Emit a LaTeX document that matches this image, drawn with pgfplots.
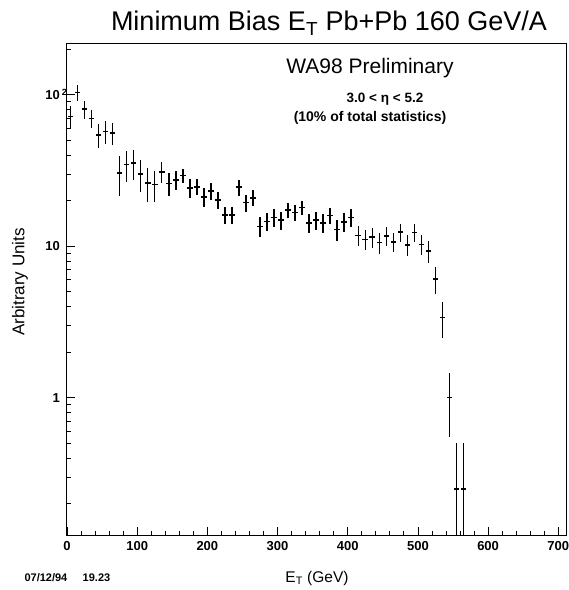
\documentclass[border=0pt]{standalone}
\usepackage{fontspec}
\setmainfont{Liberation Sans}
\usepackage{pgfplots}
\usepackage{pgfplotstable}
\pgfplotsset{compat=1.18}
\pgfplotstableread{
x y ep em
5 72 12 12
15 104 13 13
25 80.6 11 11
35 70 10 10
45 54.5 10 10
55 57.4 10 10
65 56 9 9
75 30.5 9 9
85 34.6 8 8
95 35.5 8 8
105 30 7 7
115 26.2 6.5 6.5
125 25.6 6 6
135 31 5 5
145 26 4.5 4.5
155 27.5 4 4
165 29.3 3 3
175 24.2 3.5 3.5
185 24.7 3 3
195 21.2 3 3
205 23.2 3 3
215 20.2 2.5 2.5
225 16.1 2 2
235 16.1 2 2
245 24.6 3 3
255 19.4 2.5 2.5
265 20.9 2.5 2.5
275 13.5 2 2
285 14.6 2 2
295 15.5 2 2
305 14.9 2 2
315 17.3 2 2
325 16.7 2 2
335 18.0 2 2
345 14.3 2 2
355 14.9 2 2
365 14.3 2 2
375 16.0 2 2
385 12.9 2 2
395 14.5 2 2
405 15.5 2 2
415 11.8 1.8 1.8
425 11.1 1.7 1.7
435 11.5 1.7 1.7
445 10.6 1.7 1.7
455 11.7 1.7 1.7
465 10.7 1.6 1.6
475 12.4 1.7 1.7
485 10.2 1.6 1.6
495 12.3 1.7 1.7
505 10.3 1.6 1.6
515 9.3 1.5 1.5
525 6.06 1.2 1.2
535 3.39 0.9 0.9
545 1.0 0.45 0.45
555 0.25 0.25 0.2
565 0.25 0.25 0.2
}\datatable
\begin{document}
\begin{tikzpicture}
\path[use as bounding box] (-67pt,-55pt) rectangle (502pt,535pt);
\begin{axis}[
  at={(0,0)}, anchor=south west,
  width=499pt, height=492pt, scale only axis,
  xmin=0, xmax=711, ymode=log, ymin=0.124, ymax=220,
  xtick={0,100,...,700}, minor x tick num=4,
  ytick={1,10,100}, yticklabels={1,10,10\rlap{\,\raisebox{4pt}{\fontsize{9}{9}\selectfont 2}}},
  minor ytick={0.2,0.3,0.4,0.5,0.6,0.7,0.8,0.9,2,3,4,5,6,7,8,9,20,30,40,50,60,70,80,90,200},
  tick align=inside, xtick pos=bottom, ytick pos=left,
  major tick length=8pt, minor tick length=4pt,
  tick style={black, line width=0.8pt},
  axis line style={line width=1pt},
  /pgf/number format/assume math mode=true,
  ticklabel style={font=\bfseries\fontsize{13}{15}\selectfont},
  xticklabel style={inner sep=0pt, anchor=north, yshift=-6pt},
  yticklabel style={inner sep=0pt, anchor=east, xshift=-7pt},
  clip=true,
]
\addplot[draw=none, mark=none,
  error bars/.cd, x dir=both, x fixed=4, y dir=both, y explicit,
  error mark=none, error bar style={draw=black, line width=1.5pt}]
  table[x=x, y=y, y error plus=ep, y error minus=em]{\datatable};
\end{axis}
\node[font=\fontsize{27}{30}\selectfont, anchor=base] at (262pt,504pt) {Minimum Bias E\textsubscript{T} Pb+Pb 160 GeV/A};
\node[font=\fontsize{21}{24}\selectfont, anchor=base] at (303pt,461pt) {WA98 Preliminary};
\node[font=\bfseries\fontsize{13.5}{15}\selectfont, anchor=base] at (318pt,432pt) {3.0 < η < 5.2};
\node[font=\bfseries\fontsize{14}{16}\selectfont, anchor=base] at (303pt,413pt) {(10\% of total statistics)};
\node[font=\fontsize{15.5}{18}\selectfont, anchor=base] at (250pt,-47pt) {E\textsubscript{T} (GeV)};
\node[font=\fontsize{17}{19}\selectfont, rotate=90] at (-47pt,253pt) {Arbitrary Units};
\node[font=\bfseries\fontsize{11}{12}\selectfont, anchor=base west] at (-46pt,-46pt) {07/12/94\hspace{1.4em}19.23};
\end{tikzpicture}
\end{document}
